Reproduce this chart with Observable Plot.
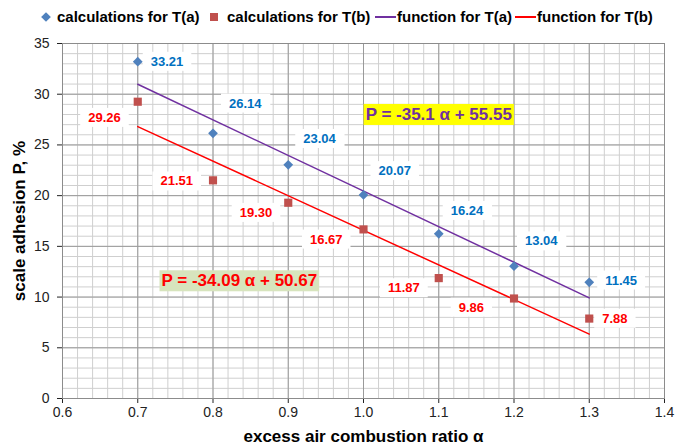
<!DOCTYPE html>
<html><head><meta charset="utf-8">
<script src="https://cdn.jsdelivr.net/npm/d3@7"></script>
<script src="https://cdn.jsdelivr.net/npm/@observablehq/plot@0.6"></script>
<style>
body{margin:0;background:#fff;font-family:"Liberation Sans",Arial,sans-serif;}
#wrap{width:677px;height:446px;overflow:hidden;}
#legend{display:block;}
#chart svg{overflow:visible;display:block;}
</style>
</head><body>
<div id="wrap">
<svg id="legend" width="677" height="32" font-family="Liberation Sans, Arial, sans-serif" font-weight="bold" font-size="15"></svg>
<div id="chart"></div>
</div>
<script>
// ---- data ----
const alpha = [0.7, 0.8, 0.9, 1.0, 1.1, 1.2, 1.3];
const calcA = [33.21, 26.14, 23.04, 20.07, 16.24, 13.04, 11.45];
const calcB = [29.26, 21.51, 19.30, 16.67, 11.87, 9.86, 7.88];
const fitAlpha = [0.7, 1.3];
const fitA = [30.98, 9.92];   // P = -35.1 α + 55.55
const fitB = [26.81, 6.35];   // P = -34.09 α + 50.67
const eqA = "P = -35.1 α + 55.55";
const eqB = "P = -34.09 α + 50.67";
const xTicks = [0.6, 0.7, 0.8, 0.9, 1.0, 1.1, 1.2, 1.3, 1.4];
const yTicks = [0, 5, 10, 15, 20, 25, 30, 35];
const legendLabels = ["calculations for T(a)", "calculations for T(b)", "function for T(a)", "function for T(b)"];
const xTitle = "excess air combustion ratio α";
const yTitle = "scale adhesion P, %";

// ---- label placement (pixels) ----
const offA = [[13,0],[16,-30],[15,-26],[15,-24],[12,-23],[11,-25],[16,-2]];
const offB = [[-17,16,"end"],[-20,1,"end"],[-16,10,"end"],[-21,10,"end"],[-19,10,"end"],[-30,9,"end"],[13,0,"start"]];
const eqPosA = {x:1.1, y:28.0};
const eqPosB = {x:0.835, y:11.6};

const cA = "#4F81BD", cB = "#C0504D", lA = "#7030A0", lB = "#FF0000";
const labA = "#0070C0", labB = "#FF0000";

const ptsA = alpha.map((a,i)=>({x:a, y:calcA[i]}));
const ptsB = alpha.map((a,i)=>({x:a, y:calcB[i]}));
const lineA = fitAlpha.map((a,i)=>({x:a, y:fitA[i]}));
const lineB = fitAlpha.map((a,i)=>({x:a, y:fitB[i]}));

const minorX = d3.range(0, 41).map(i => +(0.6 + i*0.02).toFixed(2));
const minorY = d3.range(0, 36);

const marks = [
  Plot.ruleX(minorX, {stroke:"#cfcfcf", strokeWidth:1}),
  Plot.ruleY(minorY, {stroke:"#cfcfcf", strokeWidth:1}),
  Plot.ruleX(xTicks, {stroke:"#9a9a9a", strokeWidth:1}),
  Plot.ruleY(yTicks, {stroke:"#9a9a9a", strokeWidth:1}),
  Plot.frame({stroke:"#8c8c8c"})
];

const labelStrings = new Set();
ptsA.forEach((d,i)=>{
  const s = calcA[i].toFixed(2); labelStrings.add(s);
  marks.push(Plot.text([d], {x:"x", y:"y", text:[s], dx:offA[i][0], dy:offA[i][1], textAnchor:"start",
    fill:labA, fontWeight:"bold", fontSize:13}));
});
ptsB.forEach((d,i)=>{
  const s = calcB[i].toFixed(2); labelStrings.add(s);
  marks.push(Plot.text([d], {x:"x", y:"y", text:[s], dx:offB[i][0], dy:offB[i][1], textAnchor:offB[i][2],
    fill:labB, fontWeight:"bold", fontSize:13}));
});

marks.push(
  Plot.text([eqPosA], {x:"x", y:"y", text:[eqA], fill:lA, fontWeight:"bold", fontSize:17}),
  Plot.text([eqPosB], {x:"x", y:"y", text:[eqB], fill:lB, fontWeight:"bold", fontSize:17}),
  Plot.line(lineA, {x:"x", y:"y", stroke:lA, strokeWidth:1.5}),
  Plot.line(lineB, {x:"x", y:"y", stroke:lB, strokeWidth:1.5}),
  Plot.dot(ptsA, {x:"x", y:"y", symbol:"diamond2", r:4.4, fill:cA, stroke:"none"}),
  Plot.dot(ptsB, {x:"x", y:"y", symbol:"square", r:4.6, fill:cB, stroke:"none"}),
  Plot.text([xTitle], {frameAnchor:"bottom", dy:38, textAnchor:"middle", lineAnchor:"middle", fontWeight:"bold", fontSize:17, fill:"#000"}),
  Plot.text([yTitle], {frameAnchor:"left", dx:-43, rotate:-90, textAnchor:"middle", lineAnchor:"middle", fontWeight:"bold", fontSize:17, fill:"#000"})
);

const chart = Plot.plot({
  width: 677,
  height: 414,
  marginLeft: 62,
  marginRight: 13,
  marginTop: 11,
  marginBottom: 48,
  style: {fontFamily:"Liberation Sans, Arial, sans-serif", fontSize:"14px", color:"#222", background:"#fff"},
  x: {domain:[0.6, 1.4], ticks: xTicks, tickFormat: d3.format(".1f"), tickSize:5, tickPadding:4, label:null},
  y: {domain:[0, 35], ticks: yTicks, tickSize:5, tickPadding:8, label:null},
  marks
});
document.getElementById("chart").appendChild(chart);

// boxes behind labels
function boxFor(t, fill, px, py){
  const b = t.getBBox();
  const r = document.createElementNS("http://www.w3.org/2000/svg","rect");
  r.setAttribute("x", b.x-px); r.setAttribute("y", b.y-py);
  r.setAttribute("width", b.width+2*px); r.setAttribute("height", b.height+2*py);
  r.setAttribute("fill", fill);
  const tr = t.getAttribute("transform"); if (tr) r.setAttribute("transform", tr);
  t.parentNode.insertBefore(r, t);
}
chart.querySelectorAll("text").forEach(t=>{
  const s = t.textContent;
  if (labelStrings.has(s)) boxFor(t, "#fff", 8, 2);
  else if (s === eqA) boxFor(t, "#FFFF00", 2, 1);
  else if (s === eqB) boxFor(t, "#D7E4BD", 2, 1);
});

// legend
const lg = d3.select("#legend");
const cy = 17;
lg.append("path").attr("d", d3.symbol(d3.symbolDiamond2, 60)()).attr("transform", `translate(46,${cy})`).attr("fill", cA);
lg.append("text").attr("x",57).attr("y",cy).attr("dy","0.35em").text(legendLabels[0]);
lg.append("rect").attr("x",210).attr("y",cy-4).attr("width",8).attr("height",8).attr("fill",cB);
lg.append("text").attr("x",227).attr("y",cy).attr("dy","0.35em").text(legendLabels[1]);
lg.append("line").attr("x1",375).attr("x2",396).attr("y1",cy).attr("y2",cy).attr("stroke",lA).attr("stroke-width",2);
lg.append("text").attr("x",397).attr("y",cy).attr("dy","0.35em").text(legendLabels[2]);
lg.append("line").attr("x1",515).attr("x2",536).attr("y1",cy).attr("y2",cy).attr("stroke",lB).attr("stroke-width",2);
lg.append("text").attr("x",537).attr("y",cy).attr("dy","0.35em").text(legendLabels[3]);
</script>
</body></html>
